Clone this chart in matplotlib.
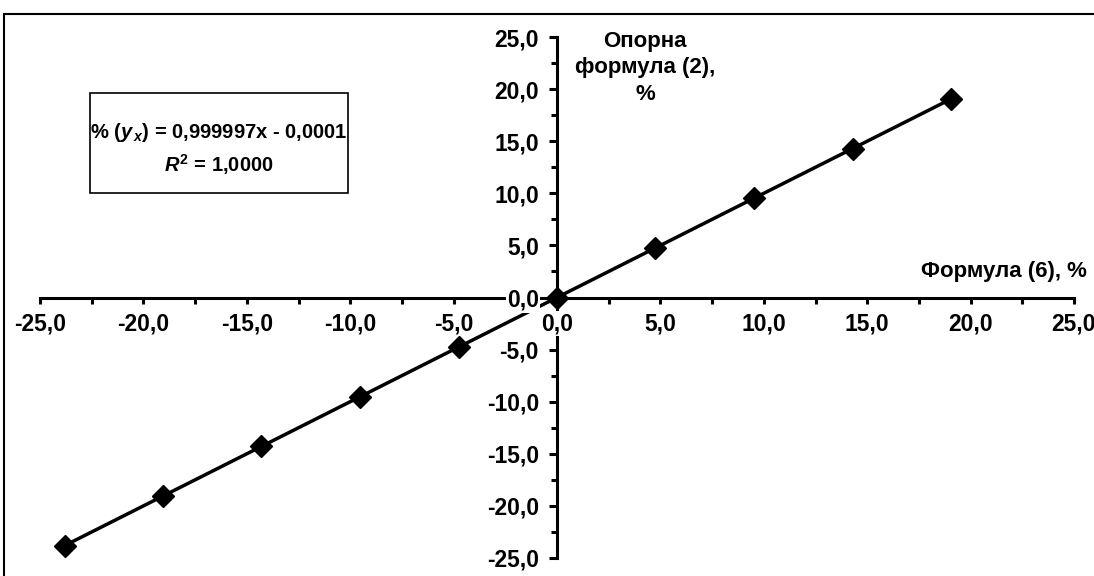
import numpy as np
import matplotlib.pyplot as plt
from matplotlib.patches import Rectangle
from matplotlib.ticker import FixedLocator

plt.rcParams['font.family'] = ['Liberation Sans', 'DejaVu Sans']
plt.rcParams['font.weight'] = 'bold'
plt.rcParams['mathtext.fontset'] = 'custom'
plt.rcParams['mathtext.it'] = 'Liberation Sans:italic:bold'
plt.rcParams['mathtext.rm'] = 'Liberation Sans:bold'
plt.rcParams['mathtext.bf'] = 'Liberation Sans:bold'

# data
x_vals = [-23.81, -19.05, -14.29, -9.52, -4.76, 0.0, 4.76, 9.52, 14.29, 19.05]
y_vals = [-23.81, -19.05, -14.29, -9.52, -4.76, 0.0, 4.76, 9.52, 14.29, 19.05]

tick_vals = [-25, -20, -15, -10, -5, 0, 5, 10, 15, 20, 25]
tick_labels = ['-25,0', '-20,0', '-15,0', '-10,0', '-5,0', '0,0',
               '5,0', '10,0', '15,0', '20,0', '25,0']
# -2.5 minor ticks are hidden behind the "0,0" labels in the original
minor_vals = [-22.5, -17.5, -12.5, -7.5, 2.5, 7.5, 12.5, 17.5, 22.5]

W, H = 1094, 576
fs_tick = 16.5
fs_title = 16
fs_eq = 14.5

fig = plt.figure(figsize=(W/100, H/100), dpi=100)
ax = fig.add_axes([40/W, 18/H, 1034/W, 521/H])
ax.set_xlim(-25, 25)
ax.set_ylim(-25, 25)

for s in ['top', 'right']:
    ax.spines[s].set_visible(False)
ax.spines['left'].set_position(('data', 0))
ax.spines['bottom'].set_position(('data', 0))
for s in ['left', 'bottom']:
    ax.spines[s].set_linewidth(2.2)
    ax.spines[s].set_zorder(1)

ax.plot(x_vals, y_vals, color='black', lw=2.5, marker='D', ms=11, zorder=2)

ax.set_xticks(tick_vals)
ax.set_xticklabels(tick_labels)
ax.set_yticks(tick_vals)
ax.set_yticklabels(tick_labels)
ax.xaxis.set_minor_locator(FixedLocator(minor_vals))
ax.yaxis.set_minor_locator(FixedLocator(minor_vals))
ax.tick_params(axis='x', which='both', direction='out', length=4.5, width=2.2, pad=6,
               labelsize=fs_tick)
ax.tick_params(axis='y', which='major', direction='out', length=6, width=2.2, pad=7,
               labelsize=fs_tick)
ax.tick_params(axis='y', which='minor', direction='out', length=4, width=2.2)
ax.xaxis.set_zorder(3)
ax.yaxis.set_zorder(3)
for t in ax.get_xticklabels() + ax.get_yticklabels():
    t.set_fontweight('bold')
    t.set_bbox(dict(facecolor='white', edgecolor='none', pad=1))

# axis titles
fig.text(645/W, 1 - 68/H, 'Опорна\nформула (2),\n%', ha='center', va='center',
         fontsize=fs_title, fontweight='bold', linespacing=1.35)
fig.text(1087/W, 1 - 272/H, 'Формула (6), %', ha='right', va='center',
         fontsize=fs_title, fontweight='bold')

# equation box
fig.patches.append(Rectangle((90/W, 1 - 193/H), 258/W, 100/H, transform=fig.transFigure,
                             facecolor='white', edgecolor='black', lw=1.2))
fig.text(219/W, 1 - 132/H, r'% ($y_{\,x}$) = 0,999997x - 0,0001', ha='center',
         va='center', fontsize=fs_eq, fontweight='bold')
fig.text(219/W, 1 - 165/H, r'$R^{\rm 2}$ = 1,0000', ha='center', va='center',
         fontsize=fs_eq, fontweight='bold')

# outer chart frame
fig.patches.append(Rectangle((4/W, -0.1), 1.2, 1.1 - 14/H, transform=fig.transFigure,
                             facecolor='none', edgecolor='black', lw=1.5))

fig.savefig('out.png', dpi=100)
